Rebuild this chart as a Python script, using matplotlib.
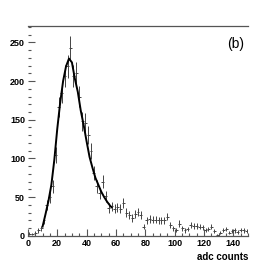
import numpy as np
import matplotlib
matplotlib.use("Agg")
import matplotlib.pyplot as plt
from matplotlib.ticker import MultipleLocator

# histogram (bin width 2, centres 1..149)
bin_centres = np.arange(1, 150, 2)
counts = [3, 2, 4, 7, 10, 20, 40, 50, 64, 105,
          167, 185, 206, 219, 242, 206, 210, 180, 148, 146,
          130, 110, 81, 64, 55, 70, 51, 36, 38, 35,
          37, 35, 43, 30, 27, 23, 28, 31, 27, 12,
          20, 22, 21, 21, 20, 20, 20, 25, 14, 10,
          8, 16, 10, 7, 9, 14, 13, 13, 12, 11,
          8, 9, 12, 6, 1, 4, 8, 9, 4, 6,
          7, 5, 8, 7, 6]

# fitted curve
fit_x = [10, 12, 14, 16, 18, 20, 22, 24, 26, 28, 30, 32, 34, 36, 38,
         40, 42, 44, 46, 48, 50, 52, 54, 56, 57]
fit_y = [12, 28, 45, 66, 98, 138, 172, 200, 219, 229, 224, 203, 186, 162, 143,
         122, 102, 88, 75, 66, 57, 50, 44, 39, 37]

plt.rcParams['font.family'] = ['Liberation Sans', 'DejaVu Sans']

fig = plt.figure(figsize=(2.76, 2.63), dpi=100)
ax = fig.add_axes([0.101, 0.103, 0.798, 0.798])

counts = np.array(counts, dtype=float)
ax.errorbar(bin_centres, counts, xerr=1, yerr=np.sqrt(counts), fmt='none',
            ecolor='#444444', elinewidth=0.7, capsize=0)
ax.plot(fit_x, fit_y, color='black', lw=1.4)

ax.set_xlim(0, 150)
ax.set_ylim(0, 271)
ax.spines['right'].set_visible(False)
ax.spines['left'].set_visible(False)
for s in ['bottom', 'top']:
    ax.spines[s].set_color('#555555')
    ax.spines[s].set_linewidth(0.9)

ax.xaxis.set_major_locator(MultipleLocator(20))
ax.xaxis.set_minor_locator(MultipleLocator(5))
ax.yaxis.set_major_locator(MultipleLocator(50))
ax.yaxis.set_minor_locator(MultipleLocator(10))
ax.tick_params(which='both', direction='in', top=False, right=False,
               color='#555555', width=0.8)
ax.tick_params(which='major', length=5, labelsize=6.5, pad=2)
ax.tick_params(which='minor', length=2.5)
for lab in ax.get_xticklabels() + ax.get_yticklabels():
    lab.set_fontweight('bold')

ax.text(1.0, -0.075, 'adc counts', transform=ax.transAxes, ha='right',
        va='top', fontsize=7, fontweight='bold')
ax.text(0.98, 0.915, '(b)', transform=ax.transAxes, ha='right', va='center',
        fontsize=10)

fig.savefig('out.png', dpi=100)
